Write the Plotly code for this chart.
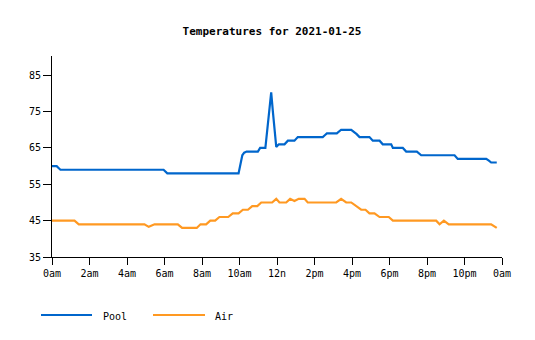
import plotly.graph_objects as go

# ---- data (hours since midnight, temperature) ----
pool_hours = [0.0, 0.25, 0.35, 0.45, 5.95, 6.05, 6.15, 9.95, 10.02, 10.08, 10.15, 10.25, 10.38,
              10.98, 11.1, 11.38, 11.46, 11.6, 11.69, 11.78, 11.87, 11.96, 12.1, 12.4, 12.58,
              12.93, 13.11, 14.44, 14.55, 14.66, 15.19, 15.3, 15.42, 15.96, 16.1, 16.25, 16.4,
              16.93, 17.11, 17.47, 17.64, 18.09, 18.18, 18.71, 18.89, 19.46, 19.69, 21.47,
              21.64, 23.16, 23.3, 23.42, 23.72]
pool_vals = [60, 60, 59.5, 59, 59, 58.5, 58, 58, 59.5, 61.5, 63, 63.7, 64,
             64, 65, 65, 69.4, 75.4, 80.3, 75, 69.4, 65.3, 66, 66, 67,
             67, 68, 68, 68.5, 69, 69, 69.5, 70, 70, 69.5, 68.8, 68,
             68, 67, 67, 66, 66, 65, 65, 64, 64, 63, 63,
             62, 62, 61.5, 61, 61]

air_hours = [0.0, 1.2, 1.43, 4.93, 5.16, 5.47, 6.71, 6.94, 7.72, 7.92, 8.22, 8.44, 8.7, 8.93,
             9.4, 9.64, 9.95, 10.18, 10.45, 10.68, 10.95, 11.16, 11.74, 11.96, 12.13, 12.49,
             12.7, 12.93, 13.16, 13.47, 13.64, 15.16, 15.42, 15.69, 15.96, 16.22, 16.49, 16.72,
             16.93, 17.2, 17.47, 17.96, 18.18, 20.49, 20.67, 20.9, 21.16, 23.42, 23.72]
air_vals = [45, 45, 44, 44, 43.3, 44, 44, 43, 43, 44, 44, 45, 45, 46,
            46, 47, 47, 48, 48, 49, 49, 50, 50, 51, 50, 50,
            51, 50.4, 51, 51, 50, 50, 51, 50, 50, 49, 48, 48,
            47, 47, 46, 46, 45, 45, 44, 45, 44, 44, 43]

x_tickvals = list(range(0, 25, 2))
x_ticktext = ["0am", "2am", "4am", "6am", "8am", "10am", "12n", "2pm", "4pm", "6pm", "8pm", "10pm", "0am"]
y_tickvals = [35, 45, 55, 65, 75, 85]

series_names = ["Pool", "Air"]
colors = ["#0066cc", "#ff9922"]

FONT = "DejaVu Sans Mono"
W, H = 535, 340
L, R, T, B = 52, 33, 56, 83

fig = go.Figure()
fig.add_trace(go.Scatter(x=pool_hours, y=pool_vals, mode="lines", name=series_names[0],
                         line=dict(color=colors[0], width=2.2), showlegend=False))
fig.add_trace(go.Scatter(x=air_hours, y=air_vals, mode="lines", name=series_names[1],
                         line=dict(color=colors[1], width=2.2), showlegend=False))

def px_to_paper(px, py):
    return (px - L) / (W - L - R), (H - B - py) / (H - T - B)

# custom legend (line swatches + labels)
legend_items = [(41, 92, 101), (153, 205, 213)]
for (x0p, x1p, tx), name, col in zip(legend_items, series_names, colors):
    ax0, ay = px_to_paper(x0p, 315)
    ax1, _ = px_to_paper(x1p, 315)
    fig.add_shape(type="line", xref="paper", yref="paper", x0=ax0, x1=ax1, y0=ay, y1=ay,
                  line=dict(color=col, width=2))
    atx, aty = px_to_paper(tx, 316)
    fig.add_annotation(xref="paper", yref="paper", x=atx, y=aty, text=name, showarrow=False,
                       xanchor="left", yanchor="middle",
                       font=dict(family=FONT, size=10, color="black"))

fig.update_layout(
    width=W, height=H,
    margin=dict(l=L, r=R, t=T, b=B),
    paper_bgcolor="white", plot_bgcolor="white",
    title=dict(text="<b>Temperatures for 2021-01-25</b>", x=272 / W, xanchor="center",
               y=1 - 31 / H, yanchor="middle",
               font=dict(family=FONT, size=11, color="black")),
    font=dict(family=FONT, size=10, color="black"),
)
fig.update_xaxes(range=[0, 24], tickvals=x_tickvals, ticktext=x_ticktext,
                 showline=True, linecolor="black", linewidth=1, mirror=False,
                 ticks="outside", ticklen=7, tickcolor="black", showgrid=False,
                 zeroline=False, tickfont=dict(family=FONT, size=10, color="black"))
fig.update_yaxes(range=[35, 90.3], tickvals=y_tickvals,
                 showline=True, linecolor="black", linewidth=1, mirror=False,
                 ticks="outside", ticklen=8, tickcolor="black", showgrid=False,
                 zeroline=False, tickfont=dict(family=FONT, size=10, color="black"))

fig.write_html("out.html")
